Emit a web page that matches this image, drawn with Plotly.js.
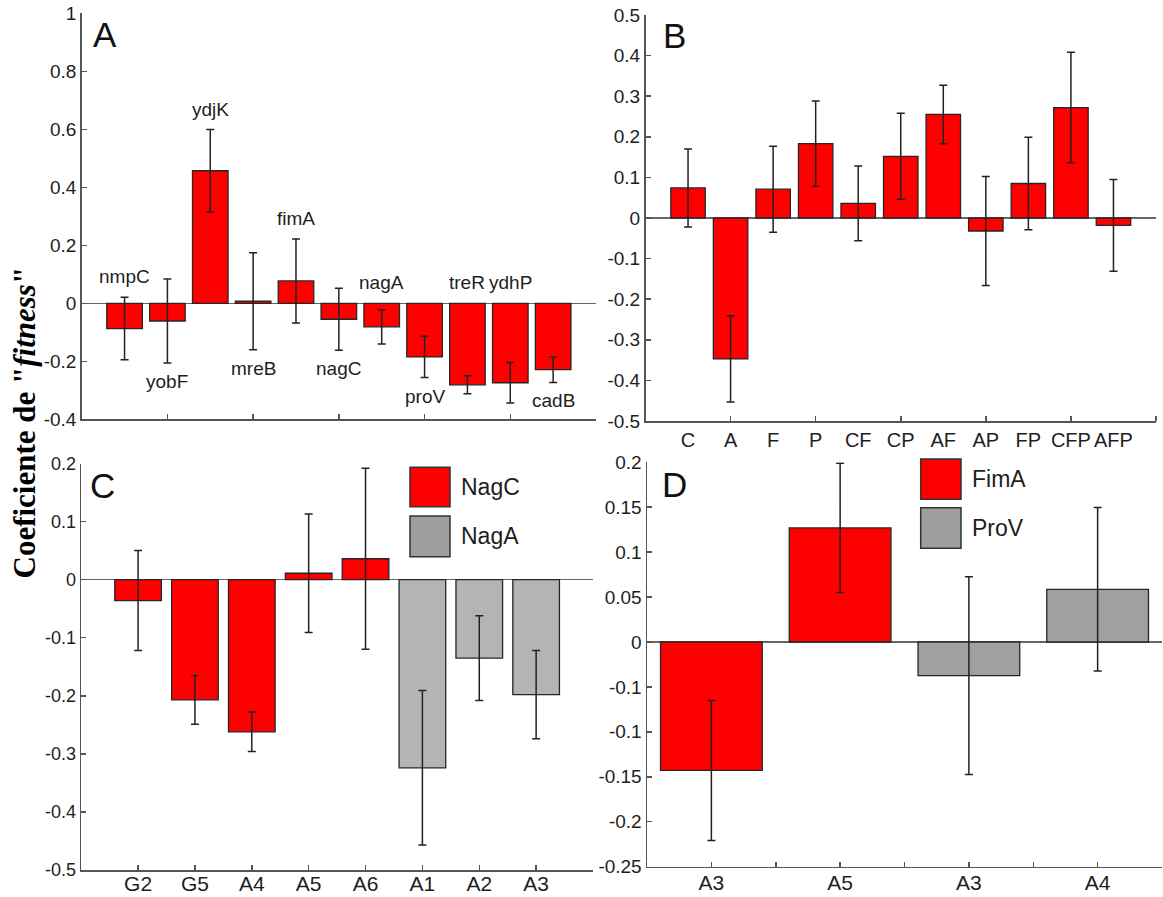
<!DOCTYPE html>
<html>
<head>
<meta charset="utf-8">
<script src="https://cdn.plot.ly/plotly-3.0.1.min.js"></script>
<style>html,body{margin:0;padding:0;background:#fff}#chart{width:1163px;height:897px}</style>
</head>
<body>
<div id="chart"></div>
<script>
// ---------- DATA ----------
const aGenes = ['nmpC','yobF','ydjK','mreB','fimA','nagC','nagA','proV','treR','ydhP','cadB'];
const aValues = [-0.087,-0.061,0.457,0.007,0.077,-0.055,-0.081,-0.185,-0.281,-0.274,-0.229];
const aErrors = [0.108,0.145,0.142,0.167,0.145,0.107,0.059,0.071,0.031,0.070,0.044];
const aLabelAbove = [true,false,true,false,true,false,true,false,true,true,false];

const bCats = ['C','A','F','P','CF','CP','AF','AP','FP','CFP','AFP'];
const bValues = [0.074,-0.347,0.071,0.183,0.036,0.152,0.255,-0.032,0.085,0.272,-0.018];
const bErrors = [0.096,0.106,0.106,0.105,0.092,0.106,0.072,0.134,0.114,0.136,0.113];

const cNagCCats = ['G2','G5','A4','A5','A6'];
const cNagCValues = [-0.036,-0.207,-0.262,0.011,0.036];
const cNagCErrors = [0.086,0.042,0.034,0.102,0.156];
const cNagACats = ['A1','A2','A3'];
const cNagAValues = [-0.324,-0.135,-0.198];
const cNagAErrors = [0.133,0.073,0.076];

const dFimACats = ['A3','A5'];
const dFimAValues = [-0.143,0.127];
const dFimAErrors = [0.078,0.072];
const dProVCats = ['A3','A4'];
const dProVValues = [-0.0375,0.0586];
const dProVErrors = [0.110,0.091];

const aYTickVals = [1,0.8,0.6,0.4,0.2,0,-0.2,-0.4];
const aYTickText = ['1','0.8','0.6','0.4','0.2','0','-0.2','-0.4'];
const bYTickVals = [0.5,0.4,0.3,0.2,0.1,0,-0.1,-0.2,-0.3,-0.4,-0.5];
const bYTickText = ['0.5','0.4','0.3','0.2','0.1','0','-0.1','-0.2','-0.3','-0.4','-0.5'];
const cYTickVals = [0.2,0.1,0,-0.1,-0.2,-0.3,-0.4,-0.5];
const cYTickText = ['0.2','0.1','0','-0.1','-0.2','-0.3','-0.4','-0.5'];
const dYTickVals = [0.2,0.15,0.1,0.05,0,-0.05,-0.1,-0.15,-0.2,-0.25];
const dYTickText = ['0.2','0.15','0.1','0.05','0','-0.1','-0.1','-0.15','-0.2','-0.25'];

const panelLetters = ['A','B','C','D'];
const yTitle = 'Coeficiente de "<i>fitness</i>"';

// ---------- STYLE ----------
const W = 1163, H = 897;
const RED = '#ff0000', GRAY_C = '#b4b4b4', GRAY_D = '#a0a0a0', GRAY_LEG = '#9e9e9e';
const EDGE = '#262626', AXIS = '#555555', TXT = '#1e1e1e';
const SANS = 'Liberation Sans, Arial, sans-serif';
const px = v => v / W, py = v => 1 - v / H;

function errs(arr){ return {type:'data', array:arr, visible:true, color:'#222', thickness:1.5, width:4}; }
function idx(arr, off){ return arr.map((_, i) => i + 1 + (off || 0)); }

const traces = [
  {type:'bar', x: idx(aGenes), y: aValues, error_y: errs(aErrors), width:0.83,
   marker:{color:RED, line:{color:EDGE, width:1.3}}, xaxis:'x', yaxis:'y', showlegend:false, hoverinfo:'skip'},
  {type:'bar', x: idx(bCats), y: bValues, error_y: errs(bErrors), width:0.81,
   marker:{color:RED, line:{color:EDGE, width:1.3}}, xaxis:'x2', yaxis:'y2', showlegend:false, hoverinfo:'skip'},
  {type:'bar', x: idx(cNagCCats), y: cNagCValues, error_y: errs(cNagCErrors), width:0.82,
   marker:{color:RED, line:{color:EDGE, width:1.3}}, xaxis:'x3', yaxis:'y3', showlegend:false, hoverinfo:'skip'},
  {type:'bar', x: idx(cNagACats, cNagCCats.length), y: cNagAValues, error_y: errs(cNagAErrors), width:0.82,
   marker:{color:GRAY_C, line:{color:EDGE, width:1.3}}, xaxis:'x3', yaxis:'y3', showlegend:false, hoverinfo:'skip'},
  {type:'bar', x: idx(dFimACats), y: dFimAValues, error_y: errs(dFimAErrors), width:0.79,
   marker:{color:RED, line:{color:EDGE, width:1.3}}, xaxis:'x4', yaxis:'y4', showlegend:false, hoverinfo:'skip'},
  {type:'bar', x: idx(dProVCats, dFimACats.length), y: dProVValues, error_y: errs(dProVErrors), width:0.79,
   marker:{color:GRAY_D, line:{color:EDGE, width:1.3}}, xaxis:'x4', yaxis:'y4', showlegend:false, hoverinfo:'skip'}
];

function yax(domain, range, vals, text, size, anchor){
  return {domain, range, anchor, tickmode:'array', tickvals:vals, ticktext:text,
    ticks:'inside', ticklen:5, tickwidth:1.5, tickcolor:AXIS, showline:true, linecolor:AXIS, linewidth:1.5,
    showgrid:false, zeroline:true, zerolinecolor:'#666', zerolinewidth:1.5,
    tickfont:{family:SANS, size:size, color:TXT}, fixedrange:true};
}
function xax(domain, range, anchor, extra){
  return Object.assign({domain, range, anchor, showline:true, linecolor:AXIS, linewidth:1.5,
    showgrid:false, zeroline:false, ticks:'inside', ticklen:5, tickwidth:1.5, tickcolor:AXIS, tickangle:0,
    tickfont:{family:SANS, size:20, color:TXT}, fixedrange:true}, extra);
}

const nC = cNagCCats.length + cNagACats.length;
const nD = dFimACats.length + dProVCats.length;
const dTickVals = [], dTickText = [];
dFimACats.concat(dProVCats).forEach((c, i) => { dTickVals.push(i + 1, i + 1.5); dTickText.push(c, ''); });
const evenTicks = n => { const t = []; for (let v = 2; v <= n + 1; v += 2) t.push(v); return t; };

const layout = {
  width: W, height: H, margin:{l:0, r:0, t:0, b:0}, paper_bgcolor:'#fff', plot_bgcolor:'rgba(0,0,0,0)',
  barmode:'overlay', showlegend:false,
  xaxis: xax([px(81.7), px(596)], [0, aGenes.length + 1], 'y',
    {tickmode:'array', tickvals: evenTicks(aGenes.length), showticklabels:false}),
  yaxis: yax([py(419.3), py(13.3)], [-0.4, 1], aYTickVals, aYTickText, 19, 'x'),
  xaxis2: xax([px(645.5), px(1156)], [0, bCats.length + 1], 'y2',
    {tickmode:'array', tickvals: idx(bCats), ticktext: bCats, ticks:'',
     minor:{tickmode:'array', tickvals: evenTicks(bCats.length), ticks:'inside', ticklen:5, tickwidth:1.5, tickcolor:AXIS}}),
  yaxis2: yax([py(421), py(15)], [-0.5, 0.5], bYTickVals, bYTickText, 19, 'x2'),
  xaxis3: xax([px(81.2), px(593)], [0, nC + 1], 'y3',
    {tickmode:'array', tickvals: idx(new Array(nC + 1).fill(0)), ticktext: cNagCCats.concat(cNagACats, ['']),
     tickfont:{family:SANS, size:21, color:TXT}, ticklabelstandoff:-6}),
  yaxis3: yax([py(870), py(463.5)], [-0.5, 0.2], cYTickVals, cYTickText, 18, 'x3'),
  xaxis4: xax([px(647), px(1162)], [0.5, nD + 0.5], 'y4',
    {tickmode:'array', tickvals: dTickVals, ticktext: dTickText, tickfont:{family:SANS, size:21, color:TXT}, ticklabelstandoff:-3}),
  yaxis4: yax([py(866.6), py(462.3)], [-0.25, 0.2], dYTickVals, dYTickText, 19, 'x4'),
  annotations: [], shapes: []
};

// gene labels panel A
aGenes.forEach((g, i) => {
  const up = aLabelAbove[i];
  const base = up ? Math.max(0, aValues[i] + aErrors[i]) : Math.min(0, aValues[i] - aErrors[i]);
  layout.annotations.push({xref:'x', yref:'y', x:i + 1, y:base, text:g, showarrow:false,
    xanchor:'center', yanchor: up ? 'bottom' : 'top', yshift: up ? 8 : -6,
    font:{family:SANS, size:19, color:TXT}});
});

// panel letters
const letterPos = [[105, 34], [674, 35], [102.7, 485], [674, 484]];
panelLetters.forEach((L, i) => {
  layout.annotations.push({xref:'paper', yref:'paper', x:px(letterPos[i][0]), y:py(letterPos[i][1]),
    text:L, showarrow:false, xanchor:'center', yanchor:'middle', font:{family:SANS, size:35, color:'#111'}});
});

// y title
layout.annotations.push({xref:'paper', yref:'paper', x:px(24), y:py(422.5), text:'<b>' + yTitle + '</b>',
  showarrow:false, textangle:-90, xanchor:'center', yanchor:'middle',
  font:{family:'Liberation Serif, Times New Roman, serif', size:31, color:'#000'}});

// custom legends (C and D)
const legends = [
  {names:['NagC','NagA'], colors:[RED, GRAY_LEG], x0:410, x1:450, ys:[[467.3,506.7],[516,556.7]], tx:459},
  {names:['FimA','ProV'], colors:[RED, GRAY_LEG], x0:920.7, x1:961, ys:[[459,499.3],[507.7,548.3]], tx:970}
];
legends.forEach(lg => {
  lg.names.forEach((n, k) => {
    const [y0, y1] = lg.ys[k];
    layout.shapes.push({type:'rect', xref:'paper', yref:'paper', x0:px(lg.x0), x1:px(lg.x1), y0:py(y1), y1:py(y0),
      fillcolor:lg.colors[k], line:{color:'#333', width:1.5}});
    layout.annotations.push({xref:'paper', yref:'paper', x:px(lg.tx), y:py((y0 + y1) / 2), text:n, showarrow:false,
      xanchor:'left', yanchor:'middle', font:{family:SANS, size:23, color:TXT}});
  });
});

Plotly.newPlot('chart', traces, layout, {displayModeBar:false, staticPlot:true});
</script>
</body>
</html>
